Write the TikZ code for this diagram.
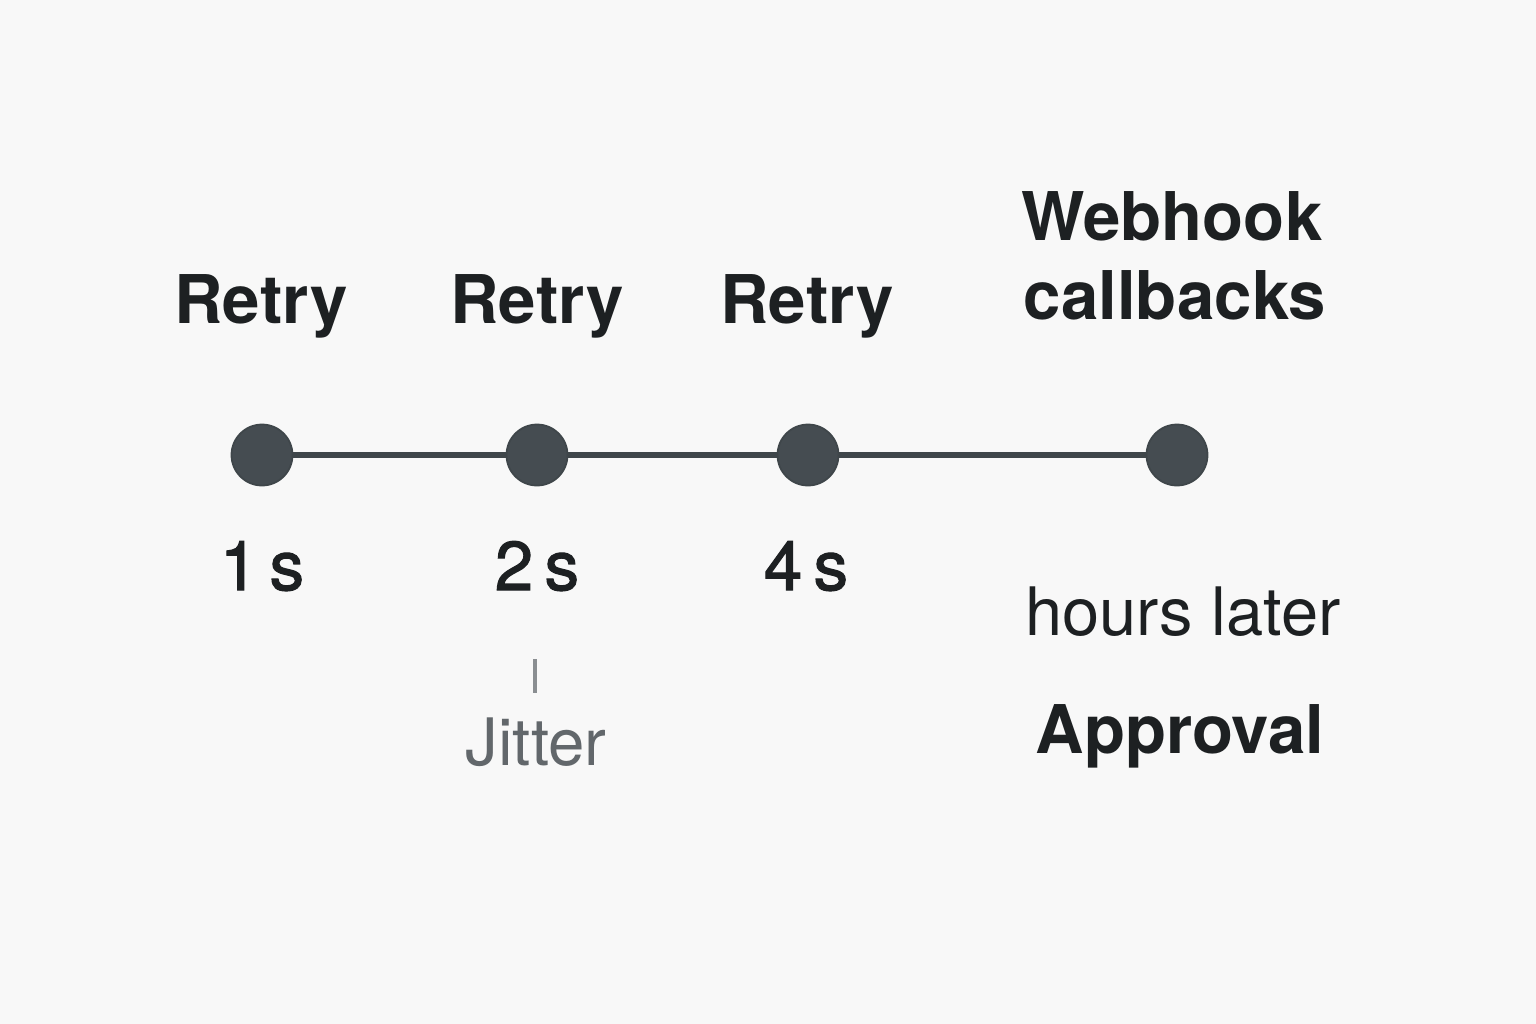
\documentclass[tikz,border=0pt]{standalone}
\usepackage{fontspec}
\setmainfont{TeX Gyre Heros}
\newfontfamily\medfont[FakeBold=1.6]{TeX Gyre Heros}
\definecolor{bgc}{HTML}{F8F8F8}
\definecolor{dotc}{HTML}{454C51}
\definecolor{linec}{HTML}{3F464A}
\definecolor{txt}{HTML}{1D2022}
\definecolor{jit}{HTML}{62676B}
\definecolor{tick}{HTML}{8A8E91}
\tikzset{
  dotn/.style={circle, fill=dotc, draw=linec, line width=0.5pt, minimum size=61*0.01cm, inner sep=0pt},
  title/.style={anchor=base, text=txt, font=\fontsize{19.1}{23}\selectfont\bfseries, inner sep=0pt},
  delay/.style={anchor=base, text=txt, font=\fontsize{19.6}{23}\medfont, inner sep=0pt},
  note/.style={anchor=base, text=txt, font=\fontsize{19}{23}\selectfont, inner sep=0pt},
  jitn/.style={anchor=base, text=jit, font=\fontsize{18.6}{23}\selectfont, inner sep=0pt},
  tl/.style={draw=linec, line width=6*0.01cm}
}
\begin{document}
\begin{tikzpicture}[x=0.01cm, y=-0.01cm]
\fill[bgc] (0,0) rectangle (1536,1024);
\useasboundingbox (0,0) rectangle (1536,1024);
% dots
\node[dotn] (d1) at (262,455) {};
\node[dotn] (d2) at (537,455) {};
\node[dotn] (d3) at (808,455) {};
\node[dotn] (d4) at (1177,455) {};
\draw[tl] (d1) -- (d2);
\draw[tl] (d2) -- (d3);
\draw[tl] (d3) -- (d4);
% titles
\node[title] (r1) at (261,323) {Retry};
\node[title] (r2) at (537,323) {Retry};
\node[title] (r3) at (807,323) {Retry};
\node[title] (w1) at (1172,240) {Webhook};
\node[title] (w2) at (1175,319) {callbacks};
% delays
\node[delay] (s1) at (262,590) {1\,s};
\node[delay] (s2) at (537,590) {2\,s};
\node[delay] (s3) at (806,590) {4\,s};
\node[note] (hl) at (1183,635) {hours later};
\node[title] (ap) at (1180,753) {Approval};
% jitter
\coordinate (jt) at (535,659);
\coordinate (jb) at (535,693);
\draw[tick, line width=4*0.01cm] (jt) -- (jb);
\node[jitn] (jit) at (536,765) {Jitter};
\end{tikzpicture}
\end{document}
